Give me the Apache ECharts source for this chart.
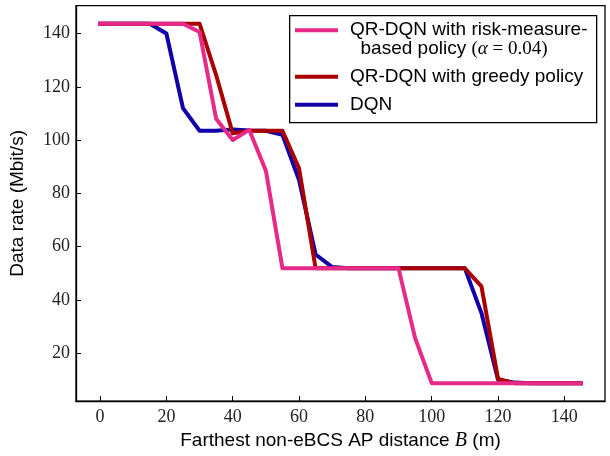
<!DOCTYPE html>
<html>
<head>
<meta charset="utf-8">
<script src="https://cdn.jsdelivr.net/npm/echarts@6/dist/echarts.min.js"></script>
<style>html,body{margin:0;padding:0;background:#fff;}#c{width:610px;height:456px;}</style>
</head>
<body>
<div id="c"></div>
<script>
// distances B (m)
var distances = [0,5,10,15,20,25,30,35,40,45,50,55,60,65,70,75,80,85,90,95,100,105,110,115,120,125,130,135,140,145];
// data rates (Mbit/s)
var riskPolicy = [143.7,143.7,143.7,143.7,143.7,143.7,140.6,108,100,103.8,88.5,51.8,51.8,51.8,51.8,51.8,51.8,51.8,51.8,25.6,8.7,8.7,8.7,8.7,8.7,8.7,8.7,8.7,8.7,8.7];
var greedyPolicy = [143.7,143.7,143.7,143.7,143.7,143.7,143.7,124.4,102.5,103.5,103.5,103.5,89.4,51.8,51.8,51.8,51.8,51.8,51.8,51.8,51.8,51.8,51.8,45,10.3,8.7,8.7,8.7,8.7,8.7];
var dqn = [143.7,143.7,143.7,143.7,140,112,103.5,103.5,104,103.6,103.5,102,85,57,52.3,51.8,51.8,51.8,51.8,51.8,51.8,51.8,51.8,35,10,8.9,8.7,8.7,8.7,8.7];
var xTicks = [0,20,40,60,80,100,120,140];
var yTicks = [20,40,60,80,100,120,140];
var seriesNames = ['QR-DQN with risk-measure-based policy (α = 0.04)', 'QR-DQN with greedy policy', 'DQN'];

function pairs(ys){ return distances.map(function(x,i){ return [x, ys[i]]; }); }

var SERIF = 'Liberation Serif';
var SANS = 'Liberation Sans';
var chart = echarts.init(document.getElementById('c'), null, {renderer:'canvas'});
var lh = 18.5;
var option = {
  animation: false,
  backgroundColor: '#fff',
  grid: {left: 73.5, right: 5, top: 5.7, bottom: 54, show: true, borderColor: '#000', borderWidth: 1.3, backgroundColor: 'transparent'},
  xAxis: {
    type: 'value', min: -7.25, max: 152.25,
    splitLine: {show: false},
    axisLine: {onZero: false, lineStyle: {color: '#000', width: 1.3}},
    axisTick: {inside: true, length: 5, lineStyle: {color: '#000', width: 1}, customValues: xTicks},
    axisLabel: {customValues: xTicks, color: '#222', fontFamily: SERIF, fontSize: 18, margin: 7},
    name: 'Farthest non-eBCS AP distance {i|B} (m)',
    nameLocation: 'middle', nameGap: 29,
    nameTextStyle: {fontFamily: SANS, fontSize: 19, color: '#000',
      rich: {i: {fontFamily: SERIF, fontStyle: 'italic', fontSize: 20, color: '#000'}}}
  },
  yAxis: {
    type: 'value', min: 1.95, max: 150.45,
    splitLine: {show: false},
    axisLine: {onZero: false, lineStyle: {color: '#000', width: 1.3}},
    axisTick: {inside: true, length: 5, lineStyle: {color: '#000', width: 1}, customValues: yTicks},
    axisLabel: {customValues: yTicks, color: '#222', fontFamily: SERIF, fontSize: 18, margin: 6},
    name: 'Data rate (Mbit/s)', nameLocation: 'middle', nameGap: 49,
    nameTextStyle: {fontFamily: SANS, fontSize: 19, color: '#000'}
  },
  graphic: [{
    type: 'rect', left: 289, top: 15, silent: true, z: 10,
    shape: {width: 307, height: 107},
    style: {fill: '#fff', stroke: '#000', lineWidth: 1.3}
  }],
  legend: {
    left: 295, top: 30 - 1.5 * lh, orient: 'vertical', z: 20,
    itemWidth: 43, itemHeight: 4, itemGap: 9, icon: 'rect', selectedMode: false,
    padding: 0, data: [seriesNames[0], seriesNames[1], seriesNames[2]],
    textStyle: {fontFamily: SANS, fontSize: 19, color: '#000', lineHeight: lh, padding: [0,0,0,7],
      rich: {
        s: {fontFamily: SANS, fontSize: 19, color: '#000', lineHeight: lh},
        m: {fontFamily: SERIF, fontSize: 19, color: '#000', lineHeight: lh},
        mi: {fontFamily: SERIF, fontStyle: 'italic', fontSize: 19, color: '#000', lineHeight: lh}
      }},
    formatter: function(name){
      if (name === seriesNames[0]) {
        return '\n{s|QR-DQN with risk-measure-}\n{s|  based policy }{m|(}{mi|α}{m| = 0.04)}';
      }
      return '{s|' + name + '}';
    }
  },
  series: [
    {name: seriesNames[2], type: 'line', data: pairs(dqn), showSymbol: false, color: '#1100AA',
      lineStyle: {width: 4, color: '#1100AA', cap: 'square', join: 'round'}, z: 2},
    {name: seriesNames[1], type: 'line', data: pairs(greedyPolicy), showSymbol: false, color: '#AA0000',
      lineStyle: {width: 4, color: '#AA0000', cap: 'square', join: 'round'}, z: 3},
    {name: seriesNames[0], type: 'line', data: pairs(riskPolicy), showSymbol: false, color: '#E7298A',
      lineStyle: {width: 4, color: '#E7298A', cap: 'square', join: 'round'}, z: 4}
  ]
};
chart.setOption(option);
</script>
</body>
</html>
